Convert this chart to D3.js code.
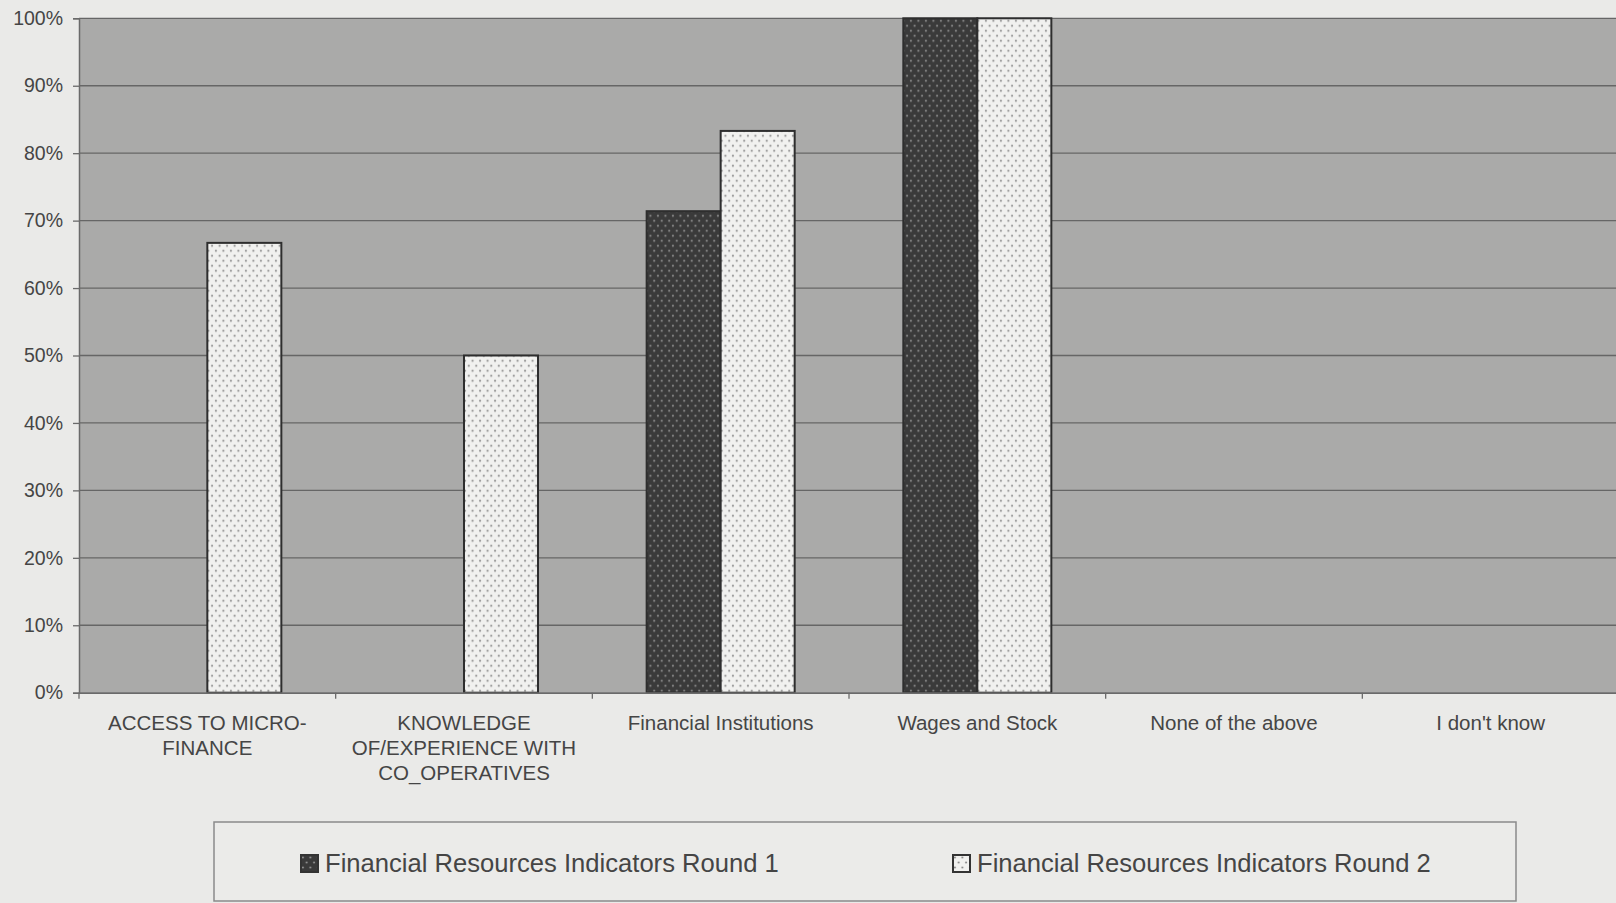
<!DOCTYPE html>
<html>
<head>
<meta charset="utf-8">
<script src="https://cdn.jsdelivr.net/npm/d3@7"></script>
<style>
  html, body { margin: 0; padding: 0; background: #eaeae8; overflow: hidden; }
  svg { display: block; font-family: "Liberation Sans", Arial, sans-serif; }
</style>
</head>
<body>
<svg id="chart" width="1616" height="903"></svg>
<script>
// Categories and series
const categories = [
  ["ACCESS TO MICRO-", "FINANCE"],
  ["KNOWLEDGE", "OF/EXPERIENCE WITH", "CO_OPERATIVES"],
  ["Financial Institutions"],
  ["Wages and Stock"],
  ["None of the above"],
  ["I don't know"]
];
const seriesNames = [
  "Financial Resources Indicators Round 1",
  "Financial Resources Indicators Round 2"
];
const round1 = [0, 0, 71.4, 100, 0, 0];
const round2 = [66.7, 50, 83.3, 100, 0, 0];
const yTicks = [0, 10, 20, 30, 40, 50, 60, 70, 80, 90, 100];

const svg = d3.select("#chart");
const W = 1616, H = 903;
const margin = { left: 79, top: 18.3, right: -3, bottom: 210.3 };
const plotW = W - margin.left - margin.right;
const plotH = H - margin.top - margin.bottom;

// Patterns: dark dotted and light dotted fills
const defs = svg.append("defs");
function dotPattern(id, bg, dot) {
  const p = defs.append("pattern").attr("id", id)
    .attr("patternUnits", "userSpaceOnUse").attr("width", 7.5).attr("height", 10);
  p.append("rect").attr("width", 7.5).attr("height", 10).attr("fill", bg);
  p.append("circle").attr("cx", 1.9).attr("cy", 2.5).attr("r", 1.1).attr("fill", dot);
  p.append("circle").attr("cx", 5.6).attr("cy", 7.5).attr("r", 1.1).attr("fill", dot);
  return "url(#" + id + ")";
}
const fills = [dotPattern("dark", "#3a3a3a", "#8e8e8e"), dotPattern("light", "#f1f1ef", "#8c8c8c")];

const g = svg.append("g").attr("transform", `translate(${margin.left},${margin.top})`);

const x0 = d3.scaleBand().domain(d3.range(categories.length)).range([0, plotW]).padding(0);
const x1 = d3.scaleBand().domain(d3.range(seriesNames.length)).range([0, x0.bandwidth()])
  .paddingInner(0).paddingOuter(0.734);
const y = d3.scaleLinear().domain([0, 100]).range([plotH, 0]);

// Plot area
g.append("rect").attr("width", plotW).attr("height", plotH).attr("fill", "#aaaaa9");

// Gridlines
g.append("g").selectAll("line").data(yTicks.filter(d => d > 0)).join("line")
  .attr("x1", 0).attr("x2", plotW)
  .attr("y1", d => y(d)).attr("y2", d => y(d))
  .attr("stroke", "#666").attr("stroke-width", 1.3);

// Bars
const values = [round1, round2];
const groups = g.append("g").selectAll("g").data(d3.range(categories.length)).join("g")
  .attr("transform", i => `translate(${x0(i)},0)`);
groups.selectAll("rect").data(i => values.map((v, s) => ({ s, v: v[i] })).filter(d => d.v > 0))
  .join("rect")
  .attr("x", d => x1(d.s))
  .attr("y", d => y(d.v))
  .attr("width", x1.bandwidth())
  .attr("height", d => y(0) - y(d.v))
  .attr("fill", d => fills[d.s])
  .attr("stroke", "#2e2e2e").attr("stroke-width", 2);

// Y axis
const yAxis = g.append("g").call(
  d3.axisLeft(y).tickValues(yTicks).tickFormat(d => d + "%").tickSize(6).tickPadding(10)
);
yAxis.select(".domain").attr("stroke", "#6a6a6a").attr("stroke-width", 1.5);
yAxis.selectAll(".tick line").attr("stroke", "#6a6a6a").attr("stroke-width", 1.3);
yAxis.selectAll(".tick text").attr("fill", "#454545")
  .style("font-size", "19.5px").style("font-family", "Liberation Sans, Arial, sans-serif");

// X axis baseline and category ticks
const xAxis = g.append("g").attr("transform", `translate(0,${plotH})`).call(
  d3.axisBottom(x0).tickSize(0).tickFormat("")
);
xAxis.select(".domain").attr("stroke", "#6a6a6a").attr("stroke-width", 1.8);
xAxis.selectAll(".tick").remove();
xAxis.selectAll("line.sep").data(d3.range(categories.length)).join("line")
  .attr("class", "sep")
  .attr("x1", i => x0(i)).attr("x2", i => x0(i))
  .attr("y1", 0).attr("y2", 6)
  .attr("stroke", "#6a6a6a").attr("stroke-width", 1.3);

// Category labels
const labels = g.append("g").selectAll("text").data(categories).join("text")
  .attr("x", (d, i) => x0(i) + x0.bandwidth() / 2)
  .attr("y", plotH + 37)
  .attr("text-anchor", "middle")
  .attr("fill", "#454545")
  .style("font-size", "20.5px");
labels.selectAll("tspan").data(d => d).join("tspan")
  .attr("x", function () { return d3.select(this.parentNode).attr("x"); })
  .attr("dy", (d, i) => i === 0 ? 0 : 25)
  .text(d => d);

// Legend
const legend = svg.append("g");
legend.append("rect")
  .attr("x", 214).attr("y", 822).attr("width", 1302).attr("height", 79)
  .attr("fill", "#ebebe9").attr("stroke", "#8a8a8a").attr("stroke-width", 1.5);
const legendX = [301, 953];
const items = legend.selectAll("g.item").data(seriesNames).join("g").attr("class", "item")
  .attr("transform", (d, i) => `translate(${legendX[i]},855)`);
items.append("rect")
  .attr("width", 17).attr("height", 17)
  .attr("fill", (d, i) => fills[i])
  .attr("stroke", "#333").attr("stroke-width", 2);
items.append("text")
  .attr("x", 24).attr("y", 16.5)
  .attr("fill", "#454545")
  .style("font-size", "25.6px")
  .text(d => d);
</script>
</body>
</html>
